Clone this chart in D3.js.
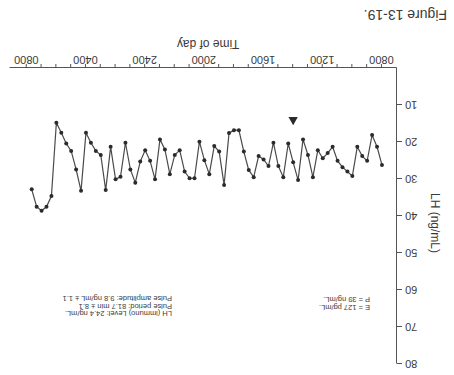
<!DOCTYPE html>
<html>
<head>
<meta charset="utf-8">
<script src="https://cdn.jsdelivr.net/npm/d3@7"></script>
<style>
  body { margin: 0; background: #fff; }
  svg { display: block; }
  text { font-family: "Liberation Sans", Arial, sans-serif; fill: #3a3a3a; }
</style>
</head>
<body>
<svg width="454" height="375"></svg>
<script>
// sample times, every 20 min from 0800 to 0740 next day
const times = [
  "08:00","08:20","08:40","09:00","09:20","09:40","10:00","10:20","10:40",
  "11:00","11:20","11:40","12:00","12:20","12:40","13:00","13:20","13:40",
  "14:00","14:20","14:40","15:00","15:20","15:40","16:00","16:20","16:40",
  "17:00","17:20","17:40","18:00","18:20","18:40","19:00","19:20","19:40",
  "20:00","20:20","20:40","21:00","21:20","21:40","22:00","22:20","22:40",
  "23:00","23:20","23:40","00:00","00:20","00:40","01:00","01:20","01:40",
  "02:00","02:20","02:40","03:00","03:20","03:40","04:00","04:20","04:40",
  "05:00","05:20","05:40","06:00","06:20","06:40","07:00","07:20","07:40"
]

// LH, ng/mL
const lh = [
  26.2,21.3,18.1,25.1,23.8,21.3,29.2,28.0,26.8,25.1,
  21.3,23.0,24.4,22.2,29.5,23.5,19.3,30.3,25.5,20.4,
  29.5,26.5,20.2,26.5,24.7,23.8,29.5,27.6,22.6,16.8,
  16.8,17.6,31.6,22.6,21.1,28.7,24.9,19.9,29.8,29.8,
  28.0,22.2,23.5,28.7,22.0,19.3,30.1,25.1,22.2,25.3,
  31.0,27.4,20.2,29.4,30.1,21.3,33.0,23.5,22.4,20.2,
  17.5,33.2,27.4,22.4,20.4,17.5,14.8,34.6,37.5,38.6,
  37.5,32.8
]

const yTicks = [10,20,30,40,50,60,70,80]
const xLabelTicks = ["08:00","12:00","16:00","20:00","00:00","04:00","08:00"]

const markerTimes = ["14:00"]
const markerLevel = 14

const notesLeft = ["E = 127 pg/mL.", "P = 39 ng/mL."]
const notesRight = [
  "LH (immuno) Level: 24.4 ng/mL.",
  "Pulse period: 81.7 min \u00b1 8.1",
  "Pulse amplitude: 9.8 ng/mL \u00b1 1.1"
]

// minutes after 0800 (the next morning counts on)
function toMin(t, i, arr) {
  const p = t.split(":")
  let m = (+p[0]) * 60 + (+p[1]) - 480
  if (m < 0 || (i === arr.length - 1 && m === 0 && arr.length > 1)) m += 1440
  return m
}

const svg = d3.select("svg")

// the whole figure is printed upside down
const g = svg.append("g")
  .attr("transform", "rotate(180 227 187.5)")

const x = d3.scaleLinear().domain([-61, 1508]).range([57, 444])
const y = d3.scaleLinear().domain([0, 80]).range([307, 11])

const points = times.map((t, i) => ({ m: toMin(t, i, times), v: lh[i] }))

// x axis
const hourTicks = d3.range(0, 1441, 60)
const labelMins = xLabelTicks.map((t, i) => toMin(t, i, xLabelTicks))
const xAxis = d3.axisBottom(x)
  .tickValues(hourTicks)
  .tickSize(4)
  .tickSizeOuter(0)
  .tickFormat(m => {
    if (labelMins.indexOf(m) < 0) return ""
    const h = (8 + m / 60) % 24
    return (h === 0 ? "24" : d3.format("02")(h)) + "00"
  })

const gx = g.append("g")
  .attr("transform", "translate(0," + y(0) + ")")
  .call(xAxis)
gx.select(".domain").attr("stroke", "#555")
gx.selectAll(".tick line").attr("stroke", "#555")
gx.selectAll(".tick text")
  .attr("font-size", 11)
  .attr("dy", "0.5em")
  .style("fill", "#3a3a3a")

// y axis
const yAxis = d3.axisLeft(y)
  .tickValues(yTicks)
  .tickSize(5)
  .tickSizeOuter(0)
const gy = g.append("g")
  .attr("transform", "translate(" + x(-61) + ",0)")
  .call(yAxis)
gy.select(".domain").attr("stroke", "#555")
gy.selectAll(".tick line").attr("stroke", "#555")
gy.selectAll(".tick text")
  .attr("font-size", 11)
  .attr("x", -8)
  .style("fill", "#3a3a3a")

// axis titles
g.append("text")
  .attr("x", 246)
  .attr("y", 335)
  .attr("text-anchor", "middle")
  .attr("font-size", 12)
  .text("Time of day")

g.append("text")
  .attr("transform", "translate(23,152) rotate(-90)")
  .attr("text-anchor", "middle")
  .attr("font-size", 12)
  .text("LH (ng/mL)")

g.append("text")
  .attr("x", 7)
  .attr("y", 365)
  .attr("font-size", 14)
  .text("Figure 13-19.")

// series
const line = d3.line().x(d => x(d.m)).y(d => y(d.v))
g.append("path")
  .datum(points)
  .attr("d", line)
  .attr("fill", "none")
  .attr("stroke", "#4a4a4a")
  .attr("stroke-width", 1.2)

g.selectAll("circle.pt")
  .data(points)
  .enter()
  .append("circle")
  .attr("class", "pt")
  .attr("cx", d => x(d.m))
  .attr("cy", d => y(d.v))
  .attr("r", 2)
  .attr("fill", "#2b2b2b")

// pulse marker
g.selectAll("path.mark")
  .data(markerTimes)
  .enter()
  .append("path")
  .attr("class", "mark")
  .attr("d", d3.symbol(d3.symbolTriangle, 38))
  .attr("transform", (t, i) => "translate(" + x(toMin(t, i, markerTimes)) + "," + y(markerLevel) + ")")
  .attr("fill", "#2b2b2b")

// notes
g.selectAll("text.nl")
  .data(notesLeft)
  .enter()
  .append("text")
  .attr("class", "nl")
  .attr("x", 84)
  .attr("y", (d, i) => 70 + i * 8)
  .attr("font-size", 7.5)
  .text(d => d)

g.selectAll("text.nr")
  .data(notesRight)
  .enter()
  .append("text")
  .attr("class", "nr")
  .attr("x", 282)
  .attr("y", (d, i) => 64 + i * 7.5)
  .attr("font-size", 7.5)
  .text(d => d)
</script>
</body>
</html>
